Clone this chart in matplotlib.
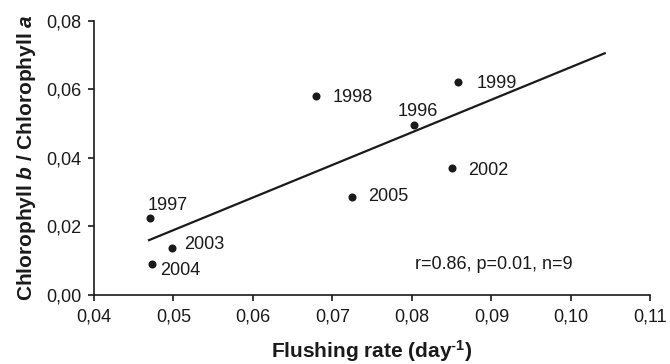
import matplotlib
matplotlib.use("Agg")
import matplotlib.pyplot as plt

plt.rcParams['font.family'] = ['Liberation Sans', 'DejaVu Sans']
plt.rcParams['mathtext.fontset'] = 'custom'
plt.rcParams['mathtext.rm'] = 'Liberation Sans:bold'
plt.rcParams['mathtext.it'] = 'Liberation Sans:bold:italic'
plt.rcParams['mathtext.bf'] = 'Liberation Sans:bold'

years = ['1997', '2004', '2003', '1998', '2005', '1996', '1999', '2002']
flushing = [0.04705, 0.04733, 0.04982, 0.06791, 0.07244, 0.0802, 0.0858, 0.0850]
chl_ratio = [0.02254, 0.00895, 0.01362, 0.0581, 0.0287, 0.0496, 0.0622, 0.0369]
# label offsets (points)
label_dx = [-1.5, 5.5, 8.5, 12, 11.5, -11.5, 13.5, 11.5]
label_dy = [9, -4.5, 3, -1, 0, 9.5, -1, -1.5]

trend_x = [0.04692, 0.10425]
trend_y = [0.0160, 0.0705]

xticks = [0.04, 0.05, 0.06, 0.07, 0.08, 0.09, 0.10, 0.11]
yticks = [0.00, 0.02, 0.04, 0.06, 0.08]

fig = plt.figure(figsize=(6.7, 3.64), dpi=100)
ax = fig.add_axes([94/670, 1-295/364, (650.7-94.3)/670, (295-20.7)/364])

ax.plot(trend_x, trend_y, color='#1a1a1a', lw=1.6)
ax.plot(flushing, chl_ratio, 'o', color='#1a1a1a', ms=5.8, mec='none')
for yr, x, y, dx, dy in zip(years, flushing, chl_ratio, label_dx, label_dy):
    ax.annotate(yr, (x, y), xytext=(dx, dy), textcoords='offset points',
                ha='left', va='center', fontsize=13, color='#1a1a1a')

ax.text(0.08034, 0.00875, 'r=0.86, p=0.01, n=9', ha='left', va='center',
        fontsize=13, color='#1a1a1a')

ax.set_xlim(0.04, 0.11)
ax.set_ylim(0.0, 0.08)
ax.set_xticks(xticks)
ax.set_yticks(yticks)
ax.set_xticklabels([f"{v:.2f}".replace('.', ',') for v in xticks])
ax.set_yticklabels([f"{v:.2f}".replace('.', ',') for v in yticks])
ax.tick_params(direction='out', length=4, width=1.2, labelsize=13,
               colors='#1a1a1a')
ax.tick_params(axis='x', pad=6)
ax.tick_params(axis='y', pad=5)
for s in ['top', 'right']:
    ax.spines[s].set_visible(False)
for s in ['left', 'bottom']:
    ax.spines[s].set_linewidth(1.2)
    ax.spines[s].set_color('#1a1a1a')

ax.set_xlabel('Flushing rate (day$^{\\text{-}1}$)', fontsize=15, fontweight='bold',
              color='#1a1a1a', labelpad=9)
ax.set_ylabel('Chlorophyll $\\mathit{b}$ / Chlorophyll $\\mathit{a}$', fontsize=15,
              fontweight='bold', color='#1a1a1a', labelpad=6)

fig.savefig('out.png', dpi=100)
